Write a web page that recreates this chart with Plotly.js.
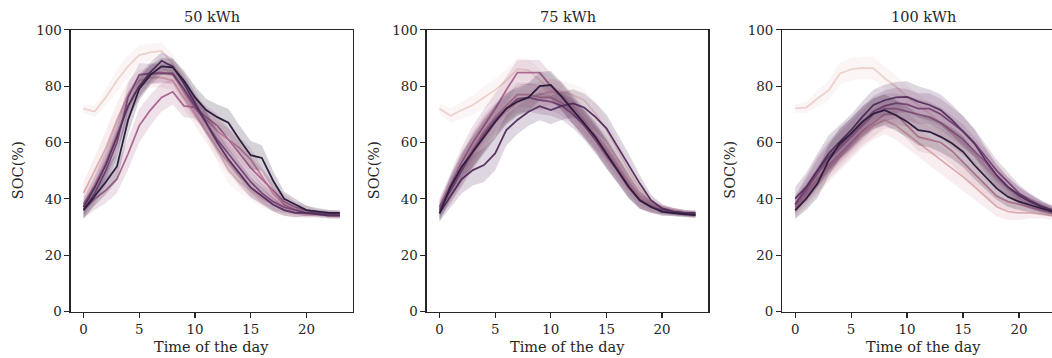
<!DOCTYPE html>
<html>
<head>
<meta charset="utf-8">
<script src="https://cdn.plot.ly/plotly-3.0.1.min.js"></script>
<style>
  html, body { margin: 0; padding: 0; overflow: hidden; background: #ffffff; }
  #chart { width: 1070px; height: 358px; }
</style>
</head>
<body>
<div id="chart"></div>
<script>
// ---------------- data ----------------
const hours = [0,1,2,3,4,5,6,7,8,9,10,11,12,13,14,15,16,17,18,19,20,21,22,23];
const panelTitles = ["50 kWh", "75 kWh", "100 kWh"];
const xTickVals = [0,5,10,15,20];
const yTickVals = [0,20,40,60,80,100];
const groupColors = ["#edd1cb", "#deabb0", "#c8879e", "#aa678f", "#834c7d", "#583463", "#2d1e3e"];

// 50 kWh : mean SOC per group
const soc50_g1 = [72,71,76,82,87,91,92,92.5,88,82,75,67,58,50,46,43,40,38,36,35,35,35,34.5,34.5];
const soc50_g2 = [42,50,58,68,77,82,83,83,82,76,70,64,58,53,48,44,41,38,36,35,34.5,34.5,34,34];
const soc50_g3 = [38,45,53,63,73,80,84,85,84,78,72,68,64,61,58,54,48,42,38,36,35,35,34.5,34];
const soc50_g4 = [36,40,43,47,56,66,71.5,76,78,73,72.5,69,66,61,56,51,47,43,39,37,36,35,35,34.5];
const soc50_g5 = [36,42,50,60,76,84,84.5,84.5,84.5,79,73,67,61,56,51,46,42,39,37,36,35,35,34.5,34.5];
const soc50_g6 = [37,44,52,62,73,80,85,89,87,81,74,67,60,54,49,44,41,38,36,35,35,34.5,34,34];
const soc50_g7 = [36,41,46,51.5,68,79,84,87,86.7,82,76,71.5,69,67,61,55.5,54.5,46.5,40,38,36,35.5,35,35];
// 50 kWh : confidence half-widths
const ci50_g1 = [1.5,2,3,4,4,3.5,3,3,3.5,4,4.5,5,5,4.5,4,3.5,3,2.5,2,1.5,1.2,1,1,1];
const ci50_g2 = [4,5,6,6,5,4,3.5,3.5,3.5,4,4,4,4,4,4,3.5,3,2.5,2,1.5,1.2,1,1,1];
const ci50_g3 = [3,4,5,5.5,5,4,3.5,3.5,3.5,4,4,4,4,4,4,4,3.5,3,2,1.5,1.2,1,1,1];
const ci50_g4 = [3,4,4.5,5,5.5,6,5.5,5,4.5,4,4,4,4,4,4,4,3.5,3,2.5,2,1.5,1.2,1,1];
const ci50_g5 = [3,4,5,5.5,5,4,3.5,3.5,3.5,4,4,4,4,4,4,4,3.5,3,2,1.5,1.2,1,1,1];
const ci50_g6 = [3,4,5,5.5,5,4,3.5,3,3,3.5,4,4,4,4,4,3.5,3,2.5,2,1.5,1.2,1,1,1];
const ci50_g7 = [3,3.5,4.5,5,5,4,3.5,3,3,3.5,4,4,4.5,5,5,5,4.5,3.5,2.5,2,1.5,1.2,1,1];

// 75 kWh : mean SOC per group
const soc75_g1 = [72,69.5,71.5,73.3,76,78.6,82,86,85.7,82,78.6,78,76.8,75,70.3,64.4,57.3,50.2,43.7,39,36.6,35.5,35,34.5];
const soc75_g2 = [36,43,50,56,62,67,71,74,76,77,78,77,73,68,63,58,52,46,41,38,36.5,35.5,35,34.5];
const soc75_g3 = [37,44,51,58,64,69,73,77,77,76,76,74,71,67,62,57,51,45,40,37.5,36,35.5,35,34.5];
const soc75_g4 = [37,45,53,60,66,72,78.6,84.8,84.8,84.8,80,76,71,66,61,55,50,44,39.5,37,36,35.5,35,34.5];
const soc75_g5 = [36,43,50,57,63,68,72,75.5,76,75,74.5,73,70,66,61,56,50,44,39.5,37,36,35,34.5,34.5];
const soc75_g6 = [35,41,47,50.2,52,56.1,64.4,68,70.9,72.9,71.5,73,73.9,72.4,69.1,65,58.5,52,45.4,39.5,36.6,35.5,35,35];
const soc75_g7 = [34.8,44.3,51.4,56.7,62,67.3,72,74.5,76,80,80.4,76.2,71.5,66.7,62,56,50.2,44.3,39.5,37.2,35.4,35.1,34.6,34.2];
// 75 kWh : confidence half-widths
const ci75_g1 = [2,2.5,3,3.5,4,4,4,4,4,4,4,4,4,4,4,4,3.5,3,2.5,2,1.5,1.2,1,1];
const ci75_g2 = [3,4.5,5.5,6,6,5.5,5,4.5,4.5,4.5,4.5,4.5,4.5,4.5,4.5,4.5,4,3.5,3,2,1.5,1.2,1,1];
const ci75_g3 = [3,4.5,5.5,6,6,5.5,5,4.5,4.5,4.5,4.5,4.5,4.5,4.5,4.5,4.5,4,3.5,3,2,1.5,1.2,1,1];
const ci75_g4 = [3,4.5,5.5,6,6,5.5,5,4.5,4.5,4.5,4.5,4.5,4.5,4.5,4.5,4.5,4,3.5,3,2,1.5,1.2,1,1];
const ci75_g5 = [3,4.5,5.5,6,6,5.5,5,5,5,5,5,5,5,5,5,5,4.5,4,3,2,1.5,1.2,1,1];
const ci75_g6 = [3,4,5,5.5,6,6,5.5,5,5,5,5,5,5,5,5,5,4.5,4,3,2,1.5,1.2,1,1];
const ci75_g7 = [3,4,5,5.5,6,6,5.5,5,5,5,5,5,5,5,5,5,4.5,4,3,2,1.5,1.2,1,1];

// 100 kWh : mean SOC per group
const soc100_g1 = [72.1,72.4,75.6,78.6,84.5,86,86.5,86.3,82.8,79.8,76.2,73.3,70.3,66.8,63.2,59.7,56.1,51.4,47.2,43.7,40.1,38.3,36.6,34.8];
const soc100_g2 = [36,41,46,51,55,59,63,66,68,66,63,60,57,54,51,47.8,44.3,40.7,37.2,35.5,35,35,34.5,34];
const soc100_g3 = [37,42,47,52,56,60,64,67,70,70,66,62,61,60,57,53,49,45,41,39,38,37,36,35];
const soc100_g4 = [38,43,49,54,58,62,66,70,72,72,71,70,69,67,64,61,57,53,48,44,41,39,37,36];
const soc100_g5 = [38,44,50,55,59,63,67,71,73,74,73.5,72,72,70,67,64,60,55,50,46,42,39.5,37.5,36];
const soc100_g6 = [40.1,44.3,50.2,56.1,60.3,64.4,69.1,73.3,75,76,76.2,74.5,73.3,71.5,68,63.8,59.7,53.7,48.4,44.3,41.3,39,37.2,35.9];
const soc100_g7 = [35.9,40.1,45.4,53.7,59.7,63.2,67.4,70.3,71.5,69.7,67.4,64.4,63.8,62,59.7,56.7,52,47.8,43.7,40.7,39,37.8,36.6,35.4];
// 100 kWh : confidence half-widths
const ci100_g1 = [1.5,2,3,3.5,4,4,4,4,4,4,4,4,4,4,4,4,4,4,3.5,3,2.5,2,1.5,1.5];
const ci100_g2 = [3,4,4.5,5,5,5,5,5,5,5,5,5,5,5,5,5,4.5,4,3.5,3,2.5,2,1.5,1.5];
const ci100_g3 = [3,4,4.5,5,5,5,5,5,5,5,5,5,5,5,5,5,4.5,4,3.5,3,2.5,2,1.5,1.5];
const ci100_g4 = [3,4,5,5.5,5.5,5.5,5.5,5.5,5.5,5.5,5.5,5.5,5.5,5.5,5.5,5.5,5,4.5,4,3.5,3,2.5,2,1.5];
const ci100_g5 = [3,4,5,5.5,5.5,5.5,5.5,5.5,5.5,5.5,5.5,5.5,5.5,5.5,5.5,5.5,5,4.5,4,3.5,3,2.5,2,1.5];
const ci100_g6 = [4,5,6,6.5,6,5.5,5.5,5.5,5.5,5.5,5.5,5.5,5.5,5.5,5.5,5.5,5,4.5,4,3.5,3,2.5,2,1.5];
const ci100_g7 = [3,4,5,5.5,5.5,5.5,5.5,5.5,5.5,5.5,5.5,5.5,5.5,5.5,5.5,5.5,5,4.5,4,3.5,3,2.5,2,1.5];

// ---------------- build ----------------
const panels = [
  {means: [soc50_g1,soc50_g2,soc50_g3,soc50_g4,soc50_g5,soc50_g6,soc50_g7],
   cis:   [ci50_g1,ci50_g2,ci50_g3,ci50_g4,ci50_g5,ci50_g6,ci50_g7]},
  {means: [soc75_g1,soc75_g2,soc75_g3,soc75_g4,soc75_g5,soc75_g6,soc75_g7],
   cis:   [ci75_g1,ci75_g2,ci75_g3,ci75_g4,ci75_g5,ci75_g6,ci75_g7]},
  {means: [soc100_g1,soc100_g2,soc100_g3,soc100_g4,soc100_g5,soc100_g6,soc100_g7],
   cis:   [ci100_g1,ci100_g2,ci100_g3,ci100_g4,ci100_g5,ci100_g6,ci100_g7]}
];

function rgba(hex, a) {
  const r = parseInt(hex.slice(1,3),16), g = parseInt(hex.slice(3,5),16), b = parseInt(hex.slice(5,7),16);
  return `rgba(${r},${g},${b},${a})`;
}

const traces = [];
panels.forEach((p, pi) => {
  const xa = pi === 0 ? 'x' : 'x' + (pi+1);
  const ya = pi === 0 ? 'y' : 'y' + (pi+1);
  p.means.forEach((m, gi) => {
    const ci = p.cis[gi];
    const upper = m.map((v,i) => v + ci[i]);
    const lower = m.map((v,i) => v - ci[i]);
    traces.push({
      x: hours.concat(hours.slice().reverse()),
      y: upper.concat(lower.slice().reverse()),
      type: 'scatter', mode: 'lines', fill: 'toself',
      fillcolor: rgba(groupColors[gi], 0.2),
      line: {width: 0, color: 'rgba(0,0,0,0)'},
      hoverinfo: 'skip', xaxis: xa, yaxis: ya, showlegend: false
    });
    traces.push({
      x: hours, y: m, type: 'scatter', mode: 'lines',
      line: {color: groupColors[gi], width: 1.75},
      xaxis: xa, yaxis: ya, showlegend: false
    });
  });
});

const W = 1070, H = 358;
const xDomPx = [[70.7, 352.7], [426.7, 708.3], [782.3, 1065.5]];
const yDom = [(H - 311.5) / H, (H - 29.8) / H];
const INK = '#262626';
const LABEL_SIZE = 14.5, TICK_SIZE = 13.4;

function axisBase() {
  return {
    showline: true, mirror: true, linecolor: INK, linewidth: 1.25,
    ticks: 'outside', ticklen: 5, tickwidth: 1.25, tickcolor: INK,
    showgrid: false, zeroline: false,
    tickfont: {family: 'DejaVu Serif', size: TICK_SIZE, color: INK}
  };
}

const layout = {
  width: W, height: H,
  margin: {l: 0, r: 0, t: 0, b: 0},
  paper_bgcolor: '#ffffff', plot_bgcolor: '#ffffff',
  showlegend: false,
  font: {family: 'DejaVu Serif', size: TICK_SIZE, color: INK},
  annotations: []
};

xDomPx.forEach((d, i) => {
  const sfx = i === 0 ? '' : String(i+1);
  const xa = Object.assign(axisBase(), {
    domain: [d[0]/W, d[1]/W], range: [-1.15, 24.15],
    tickmode: 'array', tickvals: xTickVals, anchor: 'y' + sfx
  });
  const ya = Object.assign(axisBase(), {
    domain: yDom, range: [0, 100],
    tickmode: 'array', tickvals: yTickVals, anchor: 'x' + sfx
  });
  layout['xaxis' + sfx] = xa;
  layout['yaxis' + sfx] = ya;
  const cx = (d[0] + d[1]) / 2 / W;
  layout.annotations.push({
    text: panelTitles[i], xref: 'paper', yref: 'paper', x: cx, y: (H - 17.5) / H,
    xanchor: 'center', yanchor: 'middle', showarrow: false,
    font: {family: 'DejaVu Serif', size: LABEL_SIZE, color: INK}
  });
  layout.annotations.push({
    text: 'Time of the day', xref: 'paper', yref: 'paper', x: cx, y: (H - 347) / H,
    xanchor: 'center', yanchor: 'middle', showarrow: false,
    font: {family: 'DejaVu Serif', size: LABEL_SIZE, color: INK}
  });
  layout.annotations.push({
    text: 'SOC(%)', xref: 'paper', yref: 'paper',
    x: (d[0] - 52.5) / W, y: (H - 170) / H,
    xanchor: 'center', yanchor: 'middle', textangle: -90, showarrow: false,
    font: {family: 'DejaVu Serif', size: LABEL_SIZE, color: INK}
  });
});

Plotly.newPlot('chart', traces, layout, {displayModeBar: false, staticPlot: true});
</script>
</body>
</html>
